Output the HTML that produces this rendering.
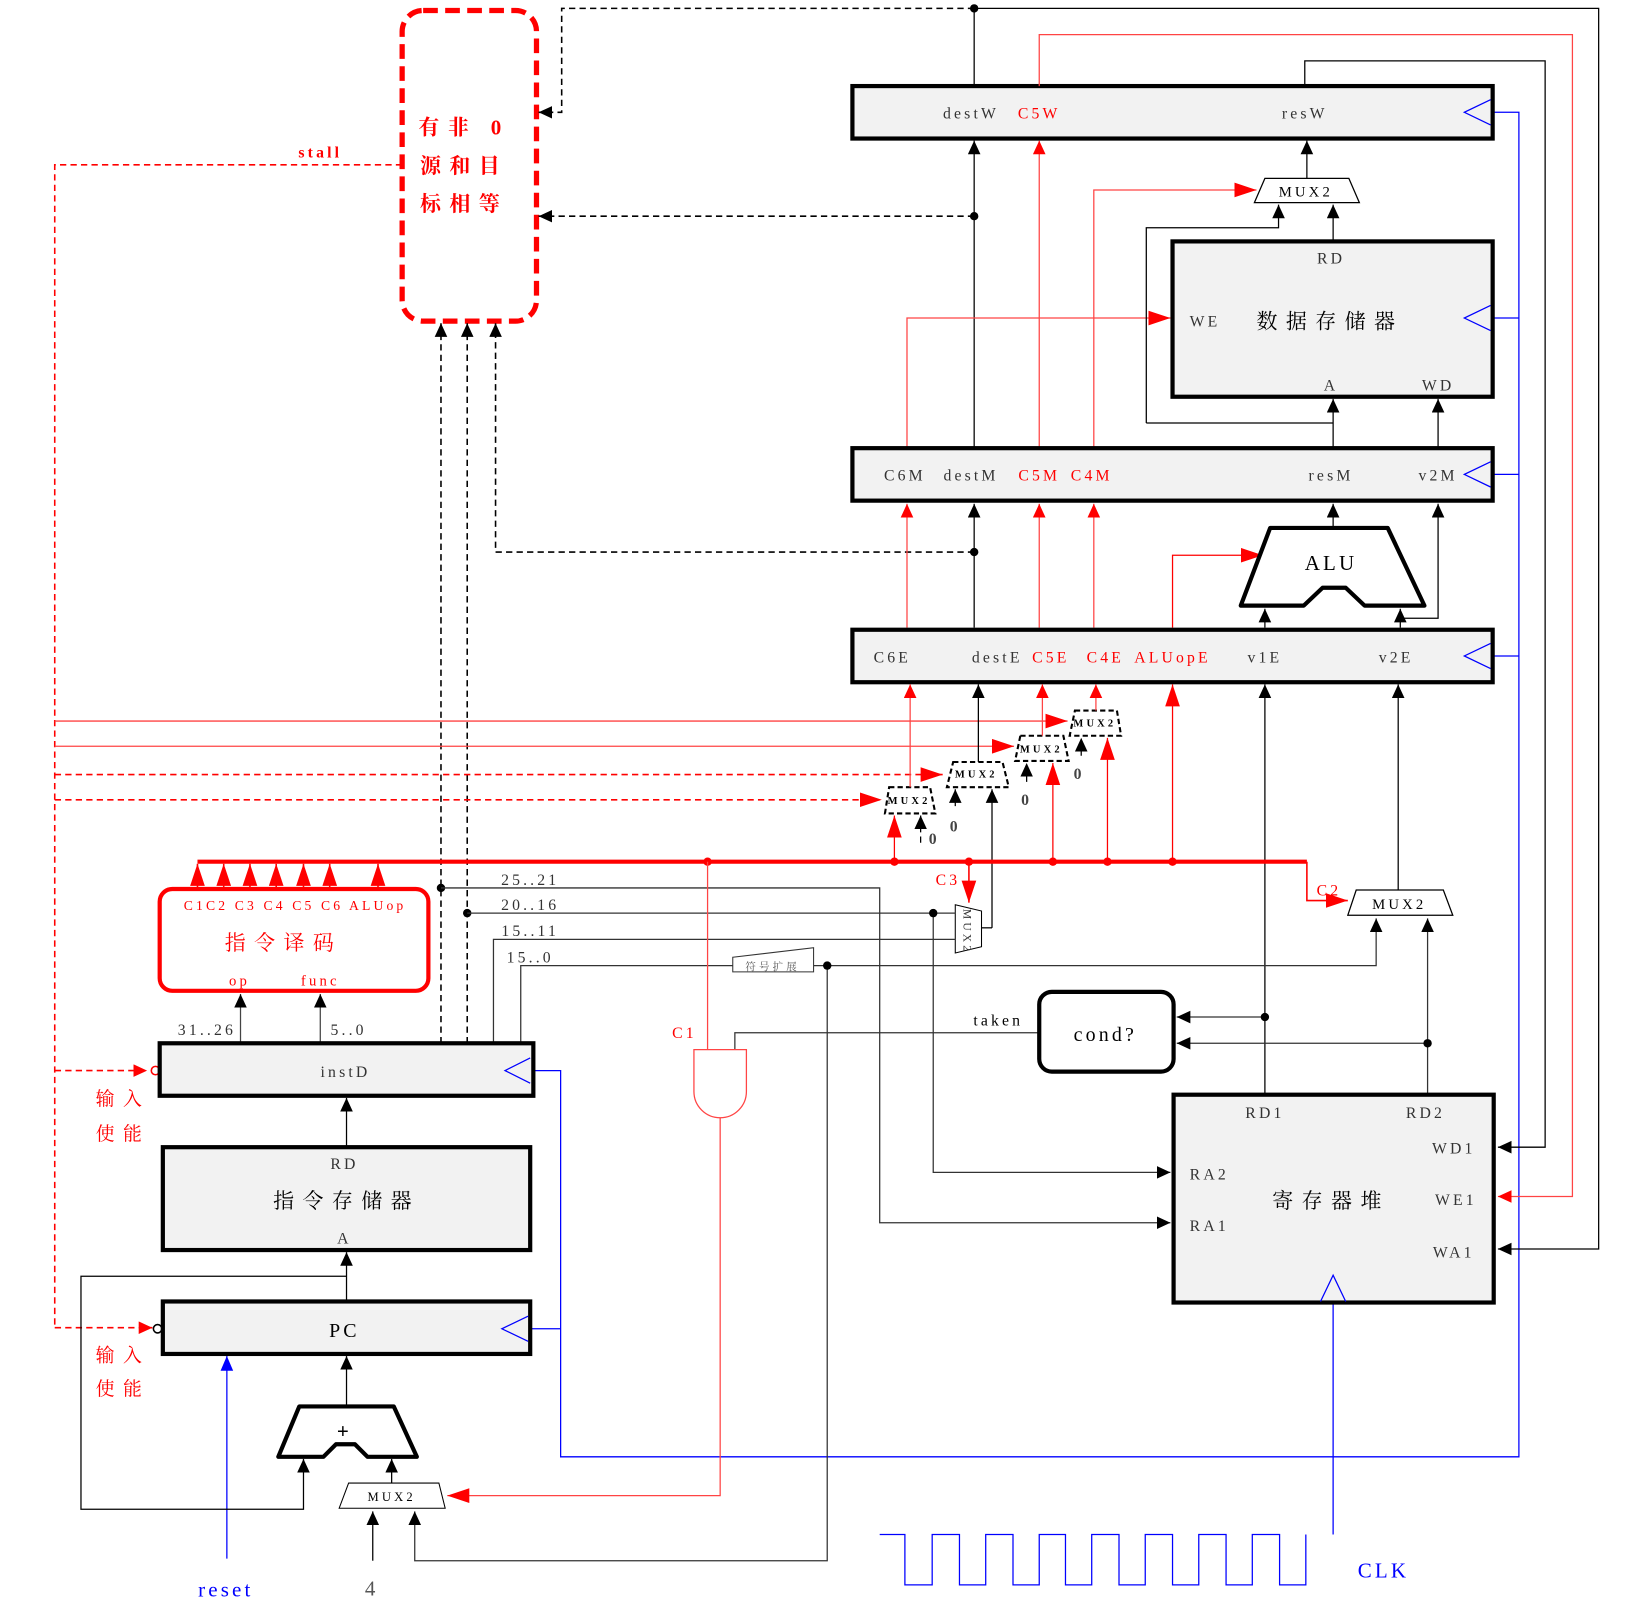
<!DOCTYPE html>
<html><head><meta charset="utf-8"><style>
html,body{margin:0;padding:0;background:#fff;}
svg{display:block;}
text{font-family:"Liberation Serif","Noto Serif CJK SC",serif;letter-spacing:3px;}
.cjk{font-family:"Liberation Serif","Noto Serif CJK SC","Noto Sans CJK SC",serif;letter-spacing:8px;}
.g{fill:#333;font-size:15px;}
.r{fill:#f00;font-size:15px;}
</style></head><body>
<svg width="1645" height="1609" viewBox="0 0 1567 1533" xmlns="http://www.w3.org/2000/svg">
<defs>
<marker id="ab" markerUnits="userSpaceOnUse" markerWidth="14" markerHeight="14" refX="13" refY="6" orient="auto"><path d="M0,0 L13,6 L0,12 z" fill="#000"/></marker>
<marker id="ar" markerUnits="userSpaceOnUse" markerWidth="22" markerHeight="16" refX="21" refY="7" orient="auto"><path d="M0,0 L21,7 L0,14 z" fill="#f00"/></marker>
<marker id="ar2" markerUnits="userSpaceOnUse" markerWidth="14" markerHeight="14" refX="13" refY="6" orient="auto"><path d="M0,0 L13,6 L0,12 z" fill="#f00"/></marker>
</defs>
<rect width="1567" height="1533" fill="#fff"/>

<rect x="383" y="10" width="128" height="296" rx="20" fill="none" stroke="#f00" stroke-width="5" stroke-dasharray="14,7"/>
<text x="442" y="128" class="cjk" font-size="20" fill="#f00" font-weight="bold" text-anchor="middle">有非 0</text>
<text x="442" y="165" class="cjk" font-size="20" fill="#f00" font-weight="bold" text-anchor="middle">源和目</text>
<text x="442" y="201" class="cjk" font-size="20" fill="#f00" font-weight="bold" text-anchor="middle">标相等</text>
<text x="305" y="150" fill="#f00" font-size="15" font-weight="bold" text-anchor="middle">stall</text>

<g fill="none" stroke="#000" stroke-width="1.5" stroke-dasharray="6,4">
<path d="M928,8 H535 V107 H513" marker-end="url(#ab)"/>
<path d="M928,206 H513" marker-end="url(#ab)"/>
<path d="M928,526 H472 V308" marker-end="url(#ab)"/>
<path d="M420,994 V308" marker-end="url(#ab)"/>
<path d="M445,994 V308" marker-end="url(#ab)"/>
</g>
<g fill="#000"><circle cx="928" cy="8" r="4"/><circle cx="928" cy="206" r="4"/><circle cx="928" cy="526" r="4"/><circle cx="420" cy="846" r="4"/><circle cx="445" cy="870" r="4"/></g>

<g fill="none" stroke="#f00" stroke-width="1.5">
<path d="M383,157 H52 V1265" stroke-dasharray="6,4"/>
<path d="M52,1020 H140" stroke-dasharray="6,4" marker-end="url(#ar2)"/>
<path d="M52,1265 H145" stroke-dasharray="6,4" marker-end="url(#ar2)"/>
<path d="M52,738 H898" stroke-dasharray="6,4" marker-end="url(#ar)"/>
<path d="M52,762 H840" stroke-dasharray="6,4" marker-end="url(#ar)"/>
</g>
<g fill="none" stroke="#f44" stroke-width="1.2">
<path d="M52,687 H1017" marker-end="url(#ar)"/>
<path d="M52,711 H966" marker-end="url(#ar)"/>
</g>
<circle cx="148" cy="1020" r="4" fill="#fff" stroke="#f00" stroke-width="1.5"/>
<circle cx="150" cy="1266" r="4" fill="#fff" stroke="#000" stroke-width="1.5"/>
<text x="117" y="1053" class="cjk" font-size="18" fill="#f00" text-anchor="middle">输入</text>
<text x="117" y="1086" class="cjk" font-size="18" fill="#f00" text-anchor="middle">使能</text>
<text x="117" y="1297" class="cjk" font-size="18" fill="#f00" text-anchor="middle">输入</text>
<text x="117" y="1329" class="cjk" font-size="18" fill="#f00" text-anchor="middle">使能</text>

<g fill="none" stroke="#00f" stroke-width="1.2">
<path d="M1420,107 H1447 V1388 H534 V1020 H508"/>
<path d="M534,1266 H505"/>
<path d="M1420,303 H1447 M1420,452 H1447 M1420,625 H1447"/>
<path d="M1270,1240 V1462"/>
<path d="M216,1485 V1292"/>
<path d="M838,1462 H862 V1510 H888 V1462 H914 V1510 H939 V1462 H965 V1510 H990 V1462 H1015 V1510 H1040 V1462 H1066 V1510 H1091 V1462 H1117 V1510 H1142 V1462 H1168 V1510 H1193 V1462 H1219 V1510 H1244 V1462"/>
</g>
<path d="M216,1292 l-6,14 h12 z" fill="#00f"/>
<text x="215" y="1521" fill="#00f" font-size="20" text-anchor="middle">reset</text>
<text x="1318" y="1503" fill="#00f" font-size="20" text-anchor="middle">CLK</text>
<text x="354" y="1520" fill="#555" font-size="20" text-anchor="middle">4</text>

<rect x="812" y="82" width="610" height="50" fill="#f2f2f2" stroke="#000" stroke-width="4"/>
<text x="925" y="113" class="g" text-anchor="middle">destW</text>
<text x="990" y="113" class="r" text-anchor="middle">C5W</text>
<text x="1243" y="113" class="g" text-anchor="middle">resW</text>

<path d="M928,8 H1523 V1190 H1427" fill="none" stroke="#000" stroke-width="1.2" marker-end="url(#ab)"/>
<path d="M1243,82 V58 H1472 V1093 H1427" fill="none" stroke="#000" stroke-width="1.2" marker-end="url(#ab)"/>
<path d="M990,82 V33 H1498 V1140 H1427" fill="none" stroke="#f44" stroke-width="1.2" marker-end="url(#ar2)"/>
<path d="M928,8 V82" stroke="#000" stroke-width="1.2"/>

<g fill="none" stroke-width="1.2">
<path d="M928,427 V134" stroke="#000" marker-end="url(#ab)"/>
<path d="M990,427 V134" stroke="#f44" marker-end="url(#ar2)"/>
<path d="M1245,170 V134" stroke="#000" marker-end="url(#ab)"/>
<path d="M928,598 V480" stroke="#000" marker-end="url(#ab)"/>
<path d="M990,598 V480" stroke="#f44" marker-end="url(#ar2)"/>
<path d="M864,598 V480" stroke="#f44" marker-end="url(#ar2)"/>
<path d="M1042,598 V480" stroke="#f44" marker-end="url(#ar2)"/>
<path d="M1270,502 V480" stroke="#000" marker-end="url(#ab)"/>
<path d="M1334,598 V589 H1370 V480" stroke="#000" marker-end="url(#ab)"/>
<path d="M1205,598 V580" stroke="#000" marker-end="url(#ab)"/>
<path d="M1334,589 V580" stroke="#000" marker-end="url(#ab)"/>
<path d="M1117,598 V529 H1203" stroke="#f00" marker-end="url(#ar)"/>
<path d="M1042,427 V181 H1197" stroke="#f44" marker-end="url(#ar)"/>
<path d="M864,427 V303 H1115" stroke="#f44" marker-end="url(#ar)"/>
<path d="M1270,230 V195" stroke="#000" marker-end="url(#ab)"/>
<path d="M1092,403 V217 H1218 V195" stroke="#000" marker-end="url(#ab)"/>
<path d="M1092,403 H1270" stroke="#000"/>
<path d="M1270,427 V380" stroke="#000" marker-end="url(#ab)"/>
<path d="M1370,427 V380" stroke="#000" marker-end="url(#ab)"/>
</g>

<path d="M1205,170 H1285 L1295,193 H1195 Z" fill="#fff" stroke="#000" stroke-width="1.2"/>
<text x="1244" y="187" font-size="14" fill="#000" text-anchor="middle">MUX2</text>

<rect x="1117" y="230" width="305" height="148" fill="#f2f2f2" stroke="#000" stroke-width="4"/>
<text x="1268" y="251" class="g" text-anchor="middle">RD</text>
<text x="1148" y="311" class="g" text-anchor="middle">WE</text>
<text x="1267" y="313" class="cjk" font-size="20" fill="#000" text-anchor="middle">数据存储器</text>
<text x="1268" y="372" class="g" text-anchor="middle">A</text>
<text x="1370" y="372" class="g" text-anchor="middle">WD</text>

<rect x="812" y="427" width="610" height="50" fill="#f2f2f2" stroke="#000" stroke-width="4"/>
<text x="862" y="458" class="g" text-anchor="middle">C6M</text>
<text x="925" y="458" class="g" text-anchor="middle">destM</text>
<text x="990" y="458" class="r" text-anchor="middle">C5M</text>
<text x="1040" y="458" class="r" text-anchor="middle">C4M</text>
<text x="1268" y="458" class="g" text-anchor="middle">resM</text>
<text x="1370" y="458" class="g" text-anchor="middle">v2M</text>

<path d="M1210,503 H1322 L1357,577 H1300 L1282,560 H1260 L1242,577 H1182 Z" fill="#fff" stroke="#000" stroke-width="4" stroke-linejoin="round"/>
<text x="1268" y="543" font-size="20" fill="#000" text-anchor="middle">ALU</text>

<rect x="812" y="600" width="610" height="50" fill="#f2f2f2" stroke="#000" stroke-width="4"/>
<text x="850" y="631" class="g" text-anchor="middle">C6E</text>
<text x="950" y="631" class="g" text-anchor="middle">destE</text>
<text x="1001" y="631" class="r" text-anchor="middle">C5E</text>
<text x="1053" y="631" class="r" text-anchor="middle">C4E</text>
<text x="1117" y="631" class="r" text-anchor="middle">ALUopE</text>
<text x="1205" y="631" class="g" text-anchor="middle">v1E</text>
<text x="1330" y="631" class="g" text-anchor="middle">v2E</text>

<g fill="#fff" stroke="#000" stroke-width="2" stroke-dasharray="5,3">
<path d="M847,750 H886 L891,775 H843 Z"/>
<path d="M908,726 H955 L961,750 H902 Z"/>
<path d="M972,701 H1013 L1018,725 H967 Z"/>
<path d="M1024,677 H1064 L1068,701 H1019 Z"/>
</g>
<g font-size="10" font-weight="bold" fill="#000" text-anchor="middle">
<text x="866" y="766">MUX2</text><text x="930" y="741">MUX2</text><text x="992" y="717">MUX2</text><text x="1043" y="692">MUX2</text>
</g>
<g font-size="15" font-weight="bold" fill="#444" text-anchor="middle">
<text x="890" y="804">0</text><text x="910" y="792">0</text><text x="978" y="767">0</text><text x="1028" y="742">0</text>
</g>
<g fill="none" stroke-width="1.2">
<path d="M867,750 V652" stroke="#f44" marker-end="url(#ar2)"/>
<path d="M932,726 V652" stroke="#000" marker-end="url(#ab)"/>
<path d="M993,701 V652" stroke="#f44" marker-end="url(#ar2)"/>
<path d="M1044,677 V652" stroke="#f44" marker-end="url(#ar2)"/>
<path d="M1117,821 V652" stroke="#f00" marker-end="url(#ar)"/>
<path d="M1205,1043 V652" stroke="#000" marker-end="url(#ab)"/>
<path d="M1332,848 V652" stroke="#000" marker-end="url(#ab)"/>
<path d="M852,821 V777" stroke="#f00" marker-end="url(#ar)"/>
<path d="M877,803 V777" stroke="#000" stroke-dasharray="6,4" marker-end="url(#ab)"/>
<path d="M910,768 V752" stroke="#000" stroke-dasharray="6,4" marker-end="url(#ab)"/>
<path d="M945,884 V752" stroke="#000" marker-end="url(#ab)"/>
<path d="M978,745 V727" stroke="#000" stroke-dasharray="6,4" marker-end="url(#ab)"/>
<path d="M1003,821 V727" stroke="#f00" marker-end="url(#ar)"/>
<path d="M1030,720 V703" stroke="#000" stroke-dasharray="6,4" marker-end="url(#ab)"/>
<path d="M1055,821 V703" stroke="#f00" marker-end="url(#ar)"/>
</g>

<path d="M188,821 H1245" stroke="#f00" stroke-width="4"/>
<path d="M1245,821 V858 H1284" fill="none" stroke="#f00" stroke-width="1.5" marker-end="url(#ar)"/>
<text x="1266" y="853" class="r" text-anchor="middle">C2</text>
<path d="M923,821 V860" fill="none" stroke="#f00" stroke-width="1.5" marker-end="url(#ar)"/>
<text x="903" y="843" class="r" text-anchor="middle">C3</text>
<g fill="#f00"><circle cx="674" cy="821" r="4"/><circle cx="852" cy="821" r="4"/><circle cx="923" cy="821" r="4"/><circle cx="1003" cy="821" r="4"/><circle cx="1055" cy="821" r="4"/><circle cx="1117" cy="821" r="4"/></g>
<g fill="none" stroke="#f00" stroke-width="1.5">
<path d="M188,847 V823" marker-end="url(#ar)"/><path d="M213,847 V823" marker-end="url(#ar)"/><path d="M238,847 V823" marker-end="url(#ar)"/><path d="M263,847 V823" marker-end="url(#ar)"/><path d="M289,847 V823" marker-end="url(#ar)"/><path d="M314,847 V823" marker-end="url(#ar)"/><path d="M360,847 V823" marker-end="url(#ar)"/>
</g>

<path d="M910,862 L935,868 V902 L910,908 Z" fill="#fff" stroke="#000" stroke-width="1"/>
<text x="0" y="0" font-size="11" fill="#333" transform="translate(918,866) rotate(90)">MUX2</text>
<path d="M935,884 H945" stroke="#000" stroke-width="1.2"/>

<g fill="none" stroke="#333" stroke-width="1.2">
<path d="M420,846 H838 V1165 H1115" marker-end="url(#ab)"/>
<path d="M445,870 H910"/>
<path d="M889,870 V1117 H1115" marker-end="url(#ab)"/>
<path d="M470,994 V895 H910"/>
<path d="M496,994 V920 H698"/>
<path d="M775,920 H1311 V875" marker-end="url(#ab)"/>
<path d="M788,920 V1487 H395 V1440" marker-end="url(#ab)"/>
<path d="M1360,1043 V875" marker-end="url(#ab)"/>
<path d="M1205,969 H1121" marker-end="url(#ab)"/>
<path d="M1360,994 H1121" marker-end="url(#ab)"/>
<path d="M990,984 H700 V1000"/>
</g>
<g fill="#000"><circle cx="889" cy="870" r="4"/><circle cx="788" cy="920" r="4"/><circle cx="1205" cy="969" r="4"/><circle cx="1360" cy="994" r="4"/></g>
<text x="505" y="843" class="g" text-anchor="middle">25..21</text>
<text x="505" y="867" class="g" text-anchor="middle">20..16</text>
<text x="505" y="892" class="g" text-anchor="middle">15..11</text>
<text x="505" y="917" class="g" text-anchor="middle">15..0</text>
<text x="197" y="986" class="g" text-anchor="middle">31..26</text>
<text x="332" y="986" class="g" text-anchor="middle">5..0</text>
<text x="951" y="977" class="g" style="fill:#000" text-anchor="middle">taken</text>
<path d="M698,912 L775,903 V926 H698 Z" fill="#fff" stroke="#333" stroke-width="1"/>
<text x="736" y="924" font-size="10" fill="#555" text-anchor="middle" class="cjk" style="letter-spacing:3px">符号扩展</text>

<rect x="990" y="945" width="128" height="76" rx="12" fill="#fff" stroke="#000" stroke-width="4"/>
<text x="1053" y="992" font-size="19" fill="#000" text-anchor="middle">cond?</text>

<path d="M674,821 V1000" stroke="#f44" stroke-width="1.2"/>
<path d="M661,1000 H711 V1040 A25,25 0 0 1 661,1040 Z" fill="#fff" stroke="#f44" stroke-width="1.2"/>
<path d="M686,1065 V1425 H426" fill="none" stroke="#f44" stroke-width="1.2" marker-end="url(#ar)"/>
<text x="652" y="989" class="r" text-anchor="middle">C1</text>

<rect x="1118" y="1043" width="305" height="198" fill="#f2f2f2" stroke="#000" stroke-width="4"/>
<text x="1205" y="1065" class="g" text-anchor="middle">RD1</text>
<text x="1358" y="1065" class="g" text-anchor="middle">RD2</text>
<text x="1385" y="1099" class="g" text-anchor="middle">WD1</text>
<text x="1152" y="1124" class="g" text-anchor="middle">RA2</text>
<text x="1268" y="1151" class="cjk" font-size="20" fill="#000" text-anchor="middle">寄存器堆</text>
<text x="1387" y="1148" class="g" text-anchor="middle">WE1</text>
<text x="1152" y="1173" class="g" text-anchor="middle">RA1</text>
<text x="1385" y="1198" class="g" text-anchor="middle">WA1</text>

<rect x="152" y="847" width="256" height="97" rx="12" fill="#fff" stroke="#f00" stroke-width="4"/>
<text x="281" y="867" fill="#f00" font-size="13" text-anchor="middle">C1C2 C3 C4 C5 C6 ALUop</text>
<text x="270" y="905" class="cjk" font-size="20" fill="#f00" text-anchor="middle">指令译码</text>
<text x="228" y="939" fill="#f00" font-size="14" text-anchor="middle">op</text>
<text x="305" y="939" fill="#f00" font-size="14" text-anchor="middle">func</text>
<g fill="none" stroke="#444" stroke-width="1.2">
<path d="M229,993 V947" marker-end="url(#ab)"/>
<path d="M305,993 V947" marker-end="url(#ab)"/>
</g>

<rect x="152" y="994" width="356" height="50" fill="#f2f2f2" stroke="#000" stroke-width="4"/>
<text x="329" y="1026" class="g" text-anchor="middle">instD</text>
<path d="M330,1092 V1046" stroke="#000" stroke-width="1.2" marker-end="url(#ab)"/>

<rect x="155" y="1093" width="350" height="98" fill="#f2f2f2" stroke="#000" stroke-width="4"/>
<text x="328" y="1114" class="g" text-anchor="middle">RD</text>
<text x="330" y="1151" class="cjk" font-size="20" fill="#000" text-anchor="middle">指令存储器</text>
<text x="328" y="1185" class="g" text-anchor="middle">A</text>
<path d="M330,1240 V1193" stroke="#000" stroke-width="1.2" marker-end="url(#ab)"/>
<path d="M330,1216 H77 V1438 H289 V1390" fill="none" stroke="#000" stroke-width="1.2" marker-end="url(#ab)"/>

<rect x="155" y="1240" width="350" height="50" fill="#f2f2f2" stroke="#000" stroke-width="4"/>
<text x="328" y="1274" font-size="19" fill="#000" text-anchor="middle">PC</text>
<path d="M330,1340 V1292" stroke="#000" stroke-width="1.2" marker-end="url(#ab)"/>

<path d="M285,1340 H375 L397,1388 H350 L338,1376 H320 L308,1388 H265 Z" fill="#fff" stroke="#000" stroke-width="4" stroke-linejoin="round"/>
<text x="328" y="1370" font-size="20" font-weight="bold" fill="#000" text-anchor="middle">+</text>
<path d="M373,1413 V1390" stroke="#000" stroke-width="1.2" marker-end="url(#ab)"/>

<path d="M332,1413 H418 L424,1437 H323 Z" fill="#fff" stroke="#000" stroke-width="1"/>
<text x="373" y="1430" font-size="12" fill="#000" text-anchor="middle">MUX2</text>
<path d="M355,1487 V1440" stroke="#000" stroke-width="1.2" marker-end="url(#ab)"/>

<path d="M1292,848 H1375 L1384,872 H1284 Z" fill="#fff" stroke="#000" stroke-width="1.2"/>
<text x="1333" y="866" font-size="14" fill="#000" text-anchor="middle">MUX2</text>

<!-- clock triangles (drawn last) -->
<g fill="none" stroke="#00f" stroke-width="1.2">
<path d="M1420,95 L1395,107 L1420,119"/>
<path d="M1420,291 L1395,303 L1420,315"/>
<path d="M1420,440 L1395,452 L1420,464"/>
<path d="M1420,613 L1395,625 L1420,637"/>
<path d="M505,1008 L481,1020 L505,1032"/>
<path d="M503,1254 L478,1266 L503,1278"/>
<path d="M1258,1240 L1270,1215 L1282,1240"/>
</g>
</svg>
</body></html>
